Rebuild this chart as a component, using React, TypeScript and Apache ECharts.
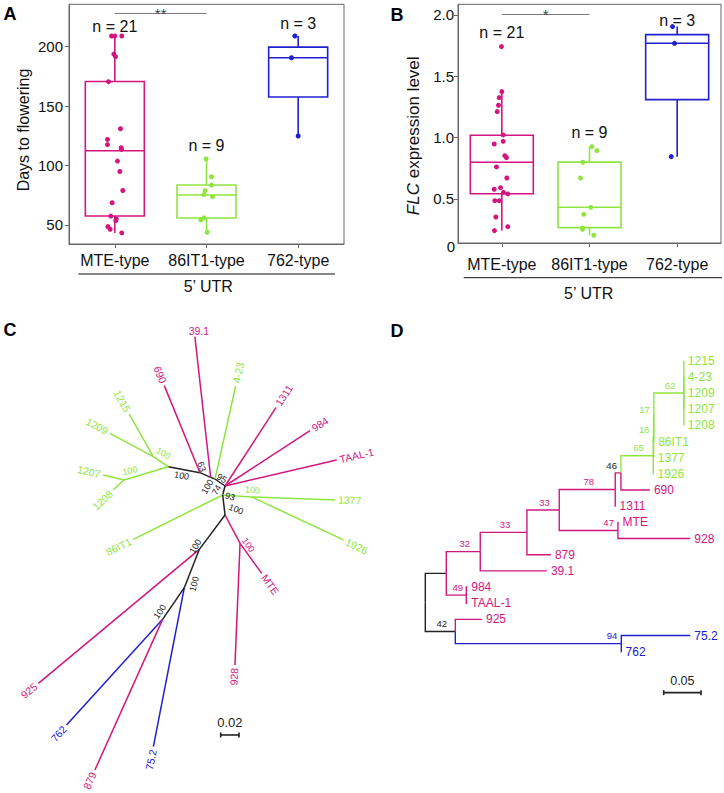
import React, { useEffect, useRef } from 'react';
import * as echarts from 'echarts';

const FONT = '"Liberation Sans", Arial, Helvetica, sans-serif';
const MAG = '#D3167F';
const GRN = '#8FE540';
const BLU = '#2020CF';
const BLK = '#222222';
const AXIS = '#666666';
const GROUP_COLOR: Record<string, string> = { MTE: MAG, '86IT1': GRN, '762': BLU, none: BLK };
const CAT_COLORS = [MAG, GRN, BLU];

// ---------- Panels A & B ----------
const categories = ['MTE-type', '86IT1-type', '762-type'];
const nLabels = ['n = 21', 'n = 9', 'n = 3'];

const daysMTE = [209, 209, 209, 193.8, 191.6, 170.6, 131, 122, 117.6, 115, 113.6, 103.8, 95, 79, 68.7, 57.5, 55.3, 53.6, 48.6, 46.4, 43.3];
const daysMTEJitter = [-0.036, 0, 0.076, -0.011, 0.007, -0.069, 0.062, -0.08, -0.08, 0.069, 0.073, 0.029, 0.055, 0.087, -0.029, -0.044, 0.015, 0.011, -0.076, -0.051, 0.076];
const days86 = [105.5, 90.6, 83.6, 78.9, 75.5, 73.8, 56, 54.3, 43.9];
const days86Jitter = [-0.004, 0.055, 0.055, -0.015, -0.029, 0.065, -0.029, -0.062, 0.007];
const days762 = [209, 190.7, 124.9];
const days762Jitter = [-0.036, -0.073, 0];
// [min, Q1, median, Q3, max]
const daysBoxStats = [
  [43.3, 57.5, 112.5, 170.8, 209],
  [43.9, 55.9, 75.2, 83.6, 105.5],
  [124.9, 157.7, 190.7, 199.7, 209],
];
const daysNLabelY = [217.4, 116.7, 219.7];
const daysTicks = [50, 100, 150, 200];
const daysSig = { from: 1, to: 2, y: 228, text: '**' };

const flcMTE = [1.742, 1.375, 1.326, 1.264, 1.212, 1.022, 0.97, 0.948, 0.853, 0.837, 0.761, 0.671, 0.592, 0.579, 0.554, 0.541, 0.486, 0.486, 0.353, 0.274, 0.242];
const flcMTEJitter = [-0.004, 0, -0.03, -0.038, -0.053, 0.015, 0.015, -0.087, 0.034, 0.053, -0.061, 0.057, -0.015, -0.087, 0.019, 0.068, -0.08, -0.03, -0.068, 0.068, -0.084];
const flc86 = [0.927, 0.894, 0.8, 0.671, 0.432, 0.375, 0.264, 0.253, 0.204];
const flc86Jitter = [0.027, 0.084, -0.076, -0.103, 0.015, -0.065, -0.08, -0.08, 0.049];
const flc762 = [1.905, 1.769, 0.845];
const flc762Jitter = [-0.053, -0.03, -0.068];
const flcBoxStats = [
  [0.242, 0.543, 0.799, 1.019, 1.375],
  [0.204, 0.266, 0.432, 0.8, 0.927],
  [0.845, 1.31, 1.769, 1.84, 1.905],
];
const flcNLabelY = [1.859, 1.04, 1.959];
const flcTicks = [0.5, 1.0, 1.5, 2.0];
const flcSig = { from: 1, to: 2, y: 2.004, text: '*' };

// ---------- Panel C: unrooted tree (parent, child, branch length, direction deg, group) ----------
const treeCEdges: [string, string, number, number, string][] = [
  ['U', 'V', 0.0133, 145, 'none'],
  ['V', 'T', 0.0051, 159, 'none'],
  ['T', 'S', 0.0127, 156.4, 'none'],
  ['S', 'P', 0.0352, 169.3, 'none'],
  ['P', 'Q', 0.0197, 146.3, '86IT1'],
  ['P', 'R', 0.0505, 196.7, '86IT1'],
  ['Q', '1215', 0.0534, 119.4, '86IT1'],
  ['Q', '1209', 0.0537, 151.7, '86IT1'],
  ['R', '1207', 0.0232, 166.4, '86IT1'],
  ['R', '1208', 0.016, 223.2, '86IT1'],
  ['S', '690', 0.1026, 112.3, 'MTE'],
  ['T', '39.1', 0.1544, 96.4, 'MTE'],
  ['V', '4-23', 0.1039, 77.5, '86IT1'],
  ['U', '1311', 0.1023, 57.0, 'MTE'],
  ['U', '984', 0.1107, 33.1, 'MTE'],
  ['U', 'TAAL-1', 0.1251, 13.1, 'MTE'],
  ['U', 'W', 0.0101, -104.5, 'none'],
  ['W', '86IT1', 0.1088, -153.6, '86IT1'],
  ['W', 'Y', 0.0317, -3.9, '86IT1'],
  ['Y', '1377', 0.091, -2.1, '86IT1'],
  ['Y', '1926', 0.1105, -25.1, '86IT1'],
  ['W', 'X', 0.022, -83.3, 'none'],
  ['X', 'Z', 0.035, -62.1, 'MTE'],
  ['Z', 'MTE', 0.0404, -54.2, 'MTE'],
  ['Z', '928', 0.1328, -92.4, 'MTE'],
  ['X', 'AA', 0.0468, -126.8, 'none'],
  ['AA', '925', 0.2285, -140.2, 'MTE'],
  ['AA', 'BB', 0.0449, -111.4, 'none'],
  ['BB', '75.2', 0.1767, -101.0, '762'],
  ['BB', 'CC', 0.0419, -124.4, 'none'],
  ['CC', '762', 0.1557, -132.3, '762'],
  ['CC', '879', 0.1802, -114.2, 'MTE'],
];
// bootstrap support: node, value, group
const treeCSupport: [string, string, string][] = [
  ['Q', '100', '86IT1'], ['R', '100', '86IT1'], ['S', '100', 'none'], ['S', '63', 'none'],
  ['V', '95', 'none'], ['T', '100', 'none'], ['V', '74', 'none'], ['W', '93', 'none'],
  ['X', '100', 'none'], ['Y', '100', '86IT1'], ['Z', '100', 'MTE'], ['AA', '100', 'none'],
  ['BB', '100', 'none'], ['CC', '100', 'none'],
];
const treeCScaleLabel = '0.02';
const treeCScaleLength = 0.02;

// ---------- Panel D: rooted tree (child, parent, branch length, support, group) ----------
const treeDEdges: [string, string, number, number | null, string][] = [
  ['A1', 'root', 0.0281, null, 'none'],
  ['B1', 'root', 0.0402, 42, 'none'],
  ['A2', 'A1', 0.0455, 32, 'MTE'],
  ['A3', 'A1', 0.0268, 49, 'MTE'],
  ['A4', 'A2', 0.0625, 33, 'MTE'],
  ['39.1', 'A2', 0.0893, null, 'MTE'],
  ['A5', 'A4', 0.0433, 33, 'MTE'],
  ['879', 'A4', 0.0321, null, 'MTE'],
  ['A6', 'A5', 0.075, 78, 'MTE'],
  ['A7', 'A5', 0.0786, 47, 'MTE'],
  ['A8', 'A6', 0.0076, 46, 'MTE'],
  ['1311', 'A6', 0.0004, null, 'MTE'],
  ['G1', 'A8', 0.0433, 65, '86IT1'],
  ['690', 'A8', 0.0388, null, 'MTE'],
  ['N16', 'G1', 0.0004, 16, '86IT1'],
  ['1926', 'G1', 0.0004, null, '86IT1'],
  ['N17', 'N16', 0.0004, 17, '86IT1'],
  ['1377', 'N16', 0.0004, null, '86IT1'],
  ['G2', 'N17', 0.0402, 62, '86IT1'],
  ['86IT1', 'N17', 0.0004, null, '86IT1'],
  ['1215', 'G2', 0, null, '86IT1'],
  ['4-23', 'G2', 0, null, '86IT1'],
  ['1209', 'G2', 0, null, '86IT1'],
  ['1207', 'G2', 0, null, '86IT1'],
  ['1208', 'G2', 0, null, '86IT1'],
  ['MTE', 'A7', 0.0009, null, 'MTE'],
  ['928', 'A7', 0.0969, null, 'MTE'],
  ['984', 'A3', 0.0013, null, 'MTE'],
  ['TAAL-1', 'A3', 0.0013, null, 'MTE'],
  ['925', 'B1', 0.0357, null, 'MTE'],
  ['B2', 'B1', 0.2223, 94, '762'],
  ['75.2', 'B2', 0.0924, null, '762'],
  ['762', 'B2', 0.0004, null, '762'],
];
const treeDSupportLabelGroup: Record<string, string> = { A8: 'none' };
const treeDScaleLabel = '0.05';
const treeDScaleLength = 0.05;

// ---------- layout / style constants (not data) ----------
const C_ROOT = 'U';
const cSupportPlacement: [number, number, number][] = [
  [10, -3.3, -30], [6, -9.3, 12], [-18.3, 3, -10], [1.7, -6, -70],
  [6.7, -0.7, -30], [-3.3, 9.3, 60], [1.7, 11, 60], [7.3, 1.7, -15],
  [11, -5.7, -20], [0.7, -7, -5], [8.3, 1.7, -55], [-4, -3, 60],
  [10, -3.7, 75], [-2.7, -7.7, 55],
];
const cLabelOverride: Record<string, { rot: number; align: string; vAlign: string; dx: number; dy: number }> = {
  '39.1': { rot: 0, align: 'center', vAlign: 'bottom', dx: 4, dy: -0.5 },
};
const dSupportEndAligned = new Set(['A7', 'B2', 'A8', 'N16', 'N17']);
const cScalePos = { x: -0.0047, y: -0.2716, labelY: -0.2582 };
const dScalePos = { x: 0.3193, y: 20.53, labelY: 19.79 };

type Lbl = {
  x: number; y: number; text: string; dx?: number; dy?: number; rot?: number;
  align?: string; vAlign?: string; color: string; size: number;
};

function textSeries(items: Lbl[], xi: number, yi: number) {
  return {
    type: 'custom', xAxisIndex: xi, yAxisIndex: yi, silent: true, z: 10,
    data: items.map((d) => [d.x, d.y]),
    renderItem: (params: any, api: any) => {
      const d = items[params.dataIndex];
      const p = api.coord([d.x, d.y]);
      return {
        type: 'text', x: p[0] + (d.dx || 0), y: p[1] + (d.dy || 0), rotation: ((d.rot || 0) * Math.PI) / 180,
        style: {
          text: d.text, fill: d.color, fontSize: d.size, fontFamily: FONT,
          align: d.align || 'center', verticalAlign: d.vAlign || 'middle',
        },
      };
    },
  };
}

function boxSeries(stats: number[][], xi: number, yi: number, boxW: number) {
  return {
    type: 'custom', xAxisIndex: xi, yAxisIndex: yi, silent: true, z: 2,
    data: stats.map((s, i) => [i + 1, ...s]),
    renderItem: (params: any, api: any) => {
      const i = params.dataIndex;
      const c = CAT_COLORS[i];
      const [lo, q1, md, q3, hi] = stats[i].map((v) => api.coord([i + 1, v]));
      const cx = lo[0];
      const h = boxW / 2;
      const st = { stroke: c, lineWidth: 1.6, fill: 'none' };
      return {
        type: 'group',
        children: [
          { type: 'line', shape: { x1: cx, y1: hi[1], x2: cx, y2: q3[1] }, style: st },
          { type: 'line', shape: { x1: cx, y1: q1[1], x2: cx, y2: lo[1] }, style: st },
          { type: 'rect', shape: { x: cx - h, y: q3[1], width: boxW, height: q1[1] - q3[1] }, style: st },
          { type: 'line', shape: { x1: cx - h, y1: md[1], x2: cx + h, y2: md[1] }, style: st },
        ],
      };
    },
  };
}

function sigSeries(sig: { from: number; to: number; y: number; text: string }, xi: number, yi: number) {
  return {
    type: 'custom', xAxisIndex: xi, yAxisIndex: yi, silent: true, z: 3,
    data: [[sig.from, sig.y]],
    renderItem: (params: any, api: any) => {
      const a = api.coord([sig.from, sig.y]);
      const b = api.coord([sig.to, sig.y]);
      return {
        type: 'group',
        children: [
          { type: 'line', shape: { x1: a[0], y1: a[1], x2: b[0], y2: b[1] }, style: { stroke: '#777', lineWidth: 1 } },
          { type: 'text', x: (a[0] + b[0]) / 2, y: a[1] + 0.5, style: { text: sig.text, fill: '#444', fontSize: 15, fontFamily: FONT, align: 'center', verticalAlign: 'middle' } },
        ],
      };
    },
  };
}

function scaleBarSeries(x0: number, len: number, y: number, xi: number, yi: number) {
  return {
    type: 'custom', xAxisIndex: xi, yAxisIndex: yi, silent: true, z: 5,
    data: [[x0, y]],
    renderItem: (params: any, api: any) => {
      const a = api.coord([x0, y]);
      const b = api.coord([x0 + len, y]);
      const st = { stroke: '#222', lineWidth: 1.6 };
      return {
        type: 'group',
        children: [
          { type: 'line', shape: { x1: a[0], y1: a[1], x2: b[0], y2: b[1] }, style: st },
          { type: 'line', shape: { x1: a[0], y1: a[1] - 2.5, x2: a[0], y2: a[1] + 2.5 }, style: st },
          { type: 'line', shape: { x1: b[0], y1: b[1] - 2.5, x2: b[0], y2: b[1] + 2.5 }, style: st },
        ],
      };
    },
  };
}

function pointsSeries(vals: number[], jit: number[], cat: number, xi: number, yi: number) {
  return {
    type: 'scatter', xAxisIndex: xi, yAxisIndex: yi, symbolSize: 5, z: 6, silent: true,
    itemStyle: { color: CAT_COLORS[cat], opacity: 1 },
    data: vals.map((v, i) => [cat + 1 + jit[i], v]),
  };
}

function buildOption() {
  // ---- tree C layout ----
  const posC: Record<string, [number, number]> = { [C_ROOT]: [0, 0] };
  const parentsC = new Set(treeCEdges.map((e) => e[0]));
  for (const [p, c, len, ang] of treeCEdges) {
    const a = (ang * Math.PI) / 180;
    const pp = posC[p];
    posC[c] = [pp[0] + len * Math.cos(a), pp[1] + len * Math.sin(a)];
  }
  const cEdgeData = treeCEdges.map(([p, c, , , g]) => ({
    coords: [posC[p], posC[c]],
    lineStyle: { color: GROUP_COLOR[g] },
  }));
  const cTipLabels: Lbl[] = treeCEdges
    .filter((e) => !parentsC.has(e[1]))
    .map(([, c, , ang, g]) => {
      const a = (ang * Math.PI) / 180;
      const right = Math.cos(a) >= 0;
      const o = cLabelOverride[c];
      if (o) {
        return { x: posC[c][0], y: posC[c][1], text: c, dx: o.dx, dy: o.dy, rot: o.rot, align: o.align, vAlign: o.vAlign, color: GROUP_COLOR[g], size: 10.5 };
      }
      return {
        x: posC[c][0], y: posC[c][1], text: c,
        dx: 3 * Math.cos(a), dy: -3 * Math.sin(a),
        rot: right ? ang : ang - 180, align: right ? 'left' : 'right', vAlign: 'middle',
        color: GROUP_COLOR[g], size: 10.5,
      };
    });
  const cSupportLabels: Lbl[] = treeCSupport.map(([n, v, g], i) => ({
    x: posC[n][0], y: posC[n][1], text: v,
    dx: cSupportPlacement[i][0], dy: cSupportPlacement[i][1], rot: cSupportPlacement[i][2],
    color: GROUP_COLOR[g], size: 9,
  }));

  // ---- tree D layout ----
  const kids: Record<string, string[]> = {};
  const lenD: Record<string, number> = {};
  treeDEdges.forEach(([c, p, l]) => {
    (kids[p] = kids[p] || []).push(c);
    lenD[c] = l;
  });
  const xD: Record<string, number> = {};
  const yD: Record<string, number> = {};
  let leaf = 0;
  const visit = (n: string, xv: number) => {
    xD[n] = xv;
    const ch = kids[n] || [];
    if (!ch.length) { yD[n] = leaf++; return; }
    ch.forEach((c) => visit(c, xv + lenD[c]));
    yD[n] = (yD[ch[0]] + yD[ch[ch.length - 1]]) / 2;
  };
  visit('root', 0);
  const dEdgeData = treeDEdges.map(([c, p, , , g]) => ({
    coords: [[xD[p], yD[p]], [xD[p], yD[c]], [xD[c], yD[c]]],
    lineStyle: { color: GROUP_COLOR[g] },
  }));
  const dTipLabels: Lbl[] = treeDEdges
    .filter((e) => !kids[e[0]])
    .map(([c, , , , g]) => ({ x: xD[c], y: yD[c], text: c, dx: 4, align: 'left', color: GROUP_COLOR[g], size: 12 }));
  const dSupportLabels: Lbl[] = treeDEdges
    .filter((e) => e[3] != null)
    .map(([c, p, , s, g]) => {
      const end = dSupportEndAligned.has(c);
      const lg = treeDSupportLabelGroup[c] || g;
      return {
        x: end ? xD[c] : (xD[p] + xD[c]) / 2, y: yD[c], text: String(s),
        dx: end ? -4 : 1.5, dy: -7.7, align: end ? 'right' : 'center',
        color: GROUP_COLOR[lg], size: 9.5,
      };
    });

  const aNLabels: Lbl[] = nLabels.map((t, i) => ({ x: i + 1, y: daysNLabelY[i], text: t, color: '#111', size: 16 }));
  const bNLabels: Lbl[] = nLabels.map((t, i) => ({ x: i + 1, y: flcNLabelY[i], text: t, color: '#111', size: 16 }));

  const valAxisCommon = (ticks: number[], margin: number, fmt: (v: number) => string) => ({
    type: 'value',
    axisLine: { show: true, lineStyle: { color: AXIS, width: 1 } },
    axisTick: { show: true, length: 4, lineStyle: { color: AXIS }, customValues: ticks },
    axisLabel: { fontSize: 15, color: '#111', margin, customValues: ticks, formatter: fmt, fontFamily: FONT },
    splitLine: { show: false },
  });
  const catAxis = (gi: number, margin: number) => ({
    gridIndex: gi, type: 'category', data: categories, boundaryGap: true,
    axisLine: { show: true, lineStyle: { color: AXIS, width: 1 } },
    axisTick: { show: true, alignWithLabel: true, length: 4, lineStyle: { color: AXIS } },
    axisLabel: { fontSize: 16, color: '#111', margin, fontFamily: FONT, interval: 0, hideOverlap: false },
    splitLine: { show: false },
  });
  const hidden = (gi: number, min: number, max: number, inverse = false) => ({
    gridIndex: gi, type: 'value', min, max, inverse, show: false, splitLine: { show: false },
  });

  const txt = (x: number, y: number, text: string, size: number, extra: any = {}) => ({
    type: 'text', x, y, silent: true,
    style: { text, fontSize: size, fontFamily: FONT, fill: '#111', align: 'center', verticalAlign: 'middle', ...extra },
  });

  return {
    animation: false,
    textStyle: { fontFamily: FONT },
    grid: [
      { left: 69, top: 4.3, width: 275, height: 239.7, show: true, borderColor: AXIS, borderWidth: 1 },
      { left: 458, top: 4.3, width: 263, height: 238.7, show: true, borderColor: AXIS, borderWidth: 1 },
      { left: 0, top: 310, width: 362, height: 483 },
      { left: 420, top: 340, width: 300, height: 400 },
    ],
    xAxis: [
      catAxis(0, 8),
      hidden(0, 0.5, 3.5),
      catAxis(1, 13),
      hidden(1, 0.5, 3.5),
      hidden(2, -0.2454, 0.1494),
      hidden(3, -0.0071, 0.3947),
    ],
    yAxis: [
      { gridIndex: 0, min: 34.0, max: 235.7, ...valAxisCommon(daysTicks, 6, (v: number) => String(v)) },
      { gridIndex: 1, min: 0.141, max: 2.087, ...valAxisCommon(flcTicks, 4, (v: number) => v.toFixed(1)) },
      hidden(2, -0.3349, 0.192),
      hidden(3, -1.28, 23.46, true),
    ],
    graphic: [
      txt(10, 13.5, 'A', 18, { fontWeight: 'bold', fill: '#000' }),
      txt(397, 15, 'B', 18, { fontWeight: 'bold', fill: '#000' }),
      txt(10, 330, 'C', 18, { fontWeight: 'bold', fill: '#000' }),
      txt(397, 330.7, 'D', 18, { fontWeight: 'bold', fill: '#000' }),
      { ...txt(23.2, 130, 'Days to flowering', 16), rotation: Math.PI / 2 },
      {
        type: 'text', x: 413, y: 135.8, rotation: Math.PI / 2, silent: true,
        style: {
          text: '{i|FLC} expression level', fontSize: 17, fontFamily: FONT, fill: '#111',
          align: 'center', verticalAlign: 'middle',
          rich: { i: { fontStyle: 'italic', fontSize: 17, fontFamily: FONT, fill: '#111' } },
        },
      },
      txt(455, 246.7, '0', 15, { align: 'right' }),
      { type: 'line', silent: true, shape: { x1: 78.3, y1: 274, x2: 335, y2: 274 }, style: { stroke: '#111', lineWidth: 1 } },
      txt(208.3, 286.7, '5\u2019 UTR', 16),
      { type: 'line', silent: true, shape: { x1: 463.7, y1: 277.7, x2: 722, y2: 277.7 }, style: { stroke: '#111', lineWidth: 1 } },
      txt(588.7, 293.3, '5\u2019 UTR', 16),
    ],
    series: [
      boxSeries(daysBoxStats, 1, 0, 59),
      pointsSeries(daysMTE, daysMTEJitter, 0, 1, 0),
      pointsSeries(days86, days86Jitter, 1, 1, 0),
      pointsSeries(days762, days762Jitter, 2, 1, 0),
      textSeries(aNLabels, 1, 0),
      sigSeries(daysSig, 1, 0),

      boxSeries(flcBoxStats, 3, 1, 63),
      pointsSeries(flcMTE, flcMTEJitter, 0, 3, 1),
      pointsSeries(flc86, flc86Jitter, 1, 3, 1),
      pointsSeries(flc762, flc762Jitter, 2, 3, 1),
      textSeries(bNLabels, 3, 1),
      sigSeries(flcSig, 3, 1),

      {
        type: 'lines', coordinateSystem: 'cartesian2d', xAxisIndex: 4, yAxisIndex: 2, silent: true,
        lineStyle: { width: 1.5, opacity: 1 }, data: cEdgeData, z: 4,
      },
      textSeries(cTipLabels, 4, 2),
      textSeries(cSupportLabels, 4, 2),
      scaleBarSeries(cScalePos.x, treeCScaleLength, cScalePos.y, 4, 2),
      textSeries([{ x: cScalePos.x + treeCScaleLength / 2, y: cScalePos.labelY, text: treeCScaleLabel, color: '#222', size: 13 }], 4, 2),

      {
        type: 'lines', coordinateSystem: 'cartesian2d', xAxisIndex: 5, yAxisIndex: 3, silent: true, polyline: true,
        lineStyle: { width: 1.4, opacity: 1 }, data: dEdgeData, z: 4,
      },
      textSeries(dTipLabels, 5, 3),
      textSeries(dSupportLabels, 5, 3),
      scaleBarSeries(dScalePos.x, treeDScaleLength, dScalePos.y, 5, 3),
      textSeries([{ x: dScalePos.x + treeDScaleLength / 2, y: dScalePos.labelY, text: treeDScaleLabel, color: '#222', size: 12.5 }], 5, 3),
    ],
  };
}

export default function App() {
  const ref = useRef<HTMLDivElement>(null);
  useEffect(() => {
    if (!ref.current) return;
    const chart = echarts.init(ref.current, undefined, { renderer: 'svg' });
    chart.setOption(buildOption() as any);
    return () => chart.dispose();
  }, []);
  return (
    <div
      ref={ref}
      style={{ position: 'fixed', left: 0, top: 0, width: 724, height: 793, background: '#fff' }}
    />
  );
}
